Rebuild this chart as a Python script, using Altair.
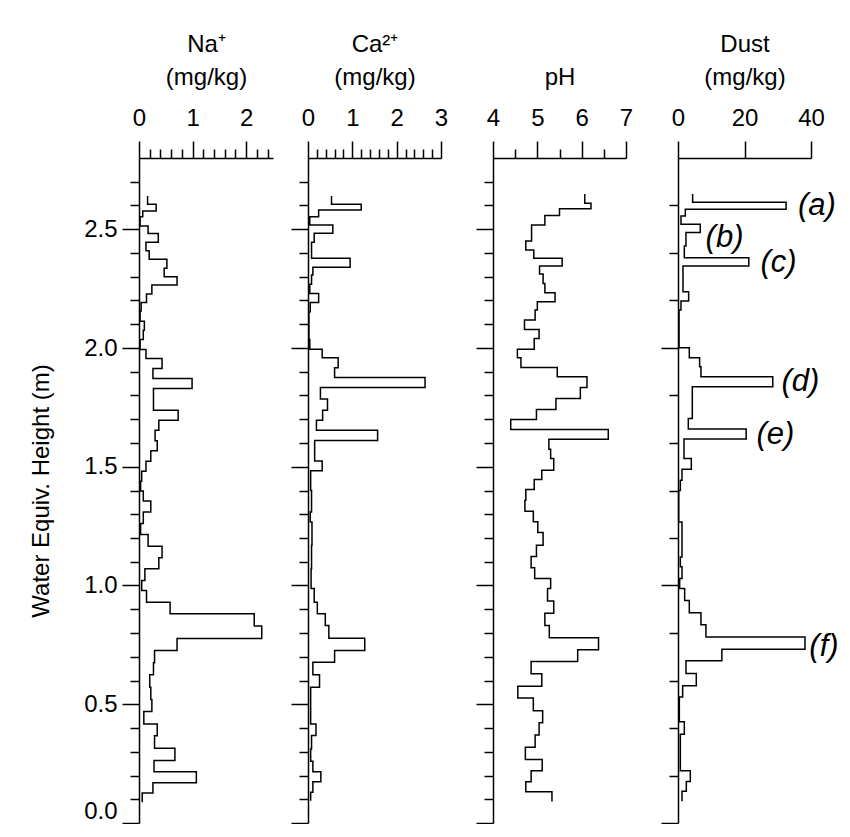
import altair as alt
import pandas as pd

FONT = "Liberation Sans"

# ---- data: sample boundaries (m, top -> bottom) and values per interval ----
na_depth = [2.640, 2.605, 2.577, 2.553, 2.514, 2.482, 2.445, 2.410, 2.374, 2.336, 2.300,
            2.265, 2.227, 2.192, 2.156, 2.113, 2.075, 2.036, 1.994, 1.956, 1.914, 1.872,
            1.830, 1.738, 1.696, 1.654, 1.610, 1.567, 1.523, 1.481, 1.439, 1.398, 1.356,
            1.310, 1.261, 1.215, 1.165, 1.117, 1.071, 1.021, 0.979, 0.930, 0.881, 0.829,
            0.777, 0.726, 0.675, 0.624, 0.572, 0.520, 0.469, 0.417, 0.367, 0.315, 0.263,
            0.216, 0.170, 0.126, 0.087]
na_value = [0.16, 0.32, 0.07, 0.02, 0.17, 0.36, 0.13, 0.19, 0.52, 0.47, 0.71,
            0.24, 0.14, 0.04, 0.02, 0.10, 0.08, 0.02, 0.13, 0.43, 0.26, 0.99,
            0.27, 0.73, 0.37, 0.30, 0.34, 0.22, 0.13, 0.05, 0.03, 0.08, 0.22,
            0.08, 0.03, 0.17, 0.43, 0.37, 0.11, 0.05, 0.14, 0.58, 2.15, 2.29,
            0.71, 0.29, 0.27, 0.20, 0.22, 0.24, 0.09, 0.34, 0.29, 0.67, 0.28,
            1.07, 0.26, 0.06]

ca_depth = [2.640, 2.605, 2.581, 2.553, 2.518, 2.483, 2.445, 2.378, 2.340, 2.307, 2.268,
            2.230, 2.192, 2.153, 2.036, 1.995, 1.959, 1.917, 1.876, 1.834, 1.785, 1.738,
            1.696, 1.654, 1.611, 1.524, 1.483, 1.400, 1.310, 1.267, 1.170, 1.070, 0.987,
            0.930, 0.881, 0.832, 0.778, 0.726, 0.677, 0.624, 0.572, 0.417, 0.368, 0.312,
            0.260, 0.216, 0.174, 0.129, 0.094]
ca_value = [0.53, 1.20, 0.24, 0.04, 0.56, 0.14, 0.08, 0.95, 0.11, 0.08, 0.04,
            0.24, 0.05, 0.02, 0.04, 0.32, 0.68, 0.60, 2.64, 0.28, 0.44, 0.33,
            0.19, 1.57, 0.15, 0.32, 0.06, 0.08, 0.05, 0.09, 0.08, 0.07, 0.14,
            0.21, 0.39, 0.47, 1.28, 0.60, 0.11, 0.26, 0.06, 0.18, 0.08, 0.06,
            0.11, 0.29, 0.11, 0.06]

ph_depth = [2.648, 2.610, 2.586, 2.558, 2.518, 2.451, 2.413, 2.378, 2.345, 2.312, 2.272,
            2.233, 2.195, 2.160, 2.118, 2.078, 2.040, 1.995, 1.959, 1.918, 1.879, 1.834,
            1.787, 1.741, 1.699, 1.657, 1.616, 1.574, 1.535, 1.485, 1.446, 1.404, 1.359,
            1.313, 1.268, 1.223, 1.169, 1.122, 1.075, 1.029, 0.987, 0.935, 0.883, 0.832,
            0.780, 0.729, 0.680, 0.628, 0.576, 0.526, 0.473, 0.422, 0.371, 0.319, 0.267,
            0.220, 0.174, 0.132, 0.091]
ph_value = [6.07, 6.21, 5.50, 5.17, 4.87, 4.74, 4.92, 5.56, 5.05, 5.13, 5.17,
            5.40, 5.00, 4.95, 4.71, 5.04, 4.93, 4.55, 4.63, 5.45, 6.12, 5.97,
            5.42, 4.98, 4.40, 6.60, 5.26, 5.30, 5.37, 5.10, 4.93, 4.74, 4.72,
            4.91, 5.01, 5.13, 4.98, 4.86, 4.94, 5.30, 5.23, 5.37, 5.17, 5.27,
            6.38, 5.91, 4.86, 5.10, 4.56, 4.91, 5.12, 5.04, 4.95, 4.73, 5.11,
            4.86, 4.74, 5.33]

dust_depth = [2.648, 2.614, 2.584, 2.556, 2.521, 2.486, 2.430, 2.380, 2.345, 2.237, 2.198,
              2.160, 2.001, 1.959, 1.921, 1.879, 1.837, 1.703, 1.659, 1.617, 1.535, 1.489,
              1.443, 1.400, 1.267, 1.120, 1.079, 1.029, 0.987, 0.937, 0.885, 0.835, 0.783,
              0.732, 0.683, 0.629, 0.578, 0.531, 0.426, 0.374, 0.220, 0.175, 0.134, 0.092]
dust_value = [4.4, 32.5, 2.2, 0.9, 6.7, 2.4, 1.9, 21.3, 1.5, 3.2, 0.9,
              0.3, 3.4, 6.5, 6.9, 28.5, 4.3, 3.1, 20.5, 1.8, 4.0, 1.2,
              0.7, 0.2, 1.2, 0.7, 1.2, 0.5, 2.0, 3.4, 6.9, 8.4, 38.2,
              13.2, 2.4, 5.5, 1.4, 0.4, 1.9, 0.7, 3.7, 2.5, 1.2]

note_label = ["(a)", "(b)", "(c)", "(d)", "(e)", "(f)"]
note_x = [36.1, 8.3, 24.8, 31.1, 23.6, 39.5]
note_y = [2.597, 2.462, 2.357, 1.855, 1.632, 0.742]

na_ticks = [round(i * 0.2, 1) for i in range(13)]
ca_ticks = [round(i * 0.2, 1) for i in range(16)]
ph_ticks = [4, 4.5, 5, 5.5, 6, 6.5, 7]
dust_ticks = [0, 10, 20, 30, 40]
y_ticks = [round(i * 0.1, 1) for i in range(28)]

FS = 24
PLOT_H = 665


def profile(depth, value):
    rows = []
    k = 0
    for i, v in enumerate(value):
        rows.append({"h": depth[i], "v": v, "o": k}); k += 1
        rows.append({"h": depth[i + 1], "v": v, "o": k}); k += 1
    return pd.DataFrame(rows)


Y_MAJOR = "abs(datum.value * 2 - round(datum.value * 2)) < 0.000001"


def yaxis(first):
    return alt.Axis(
        orient="left", values=y_ticks, grid=False,
        title="Water Equiv. Height (m)" if first else None,
        labels=first,
        labelExpr=f"{Y_MAJOR} ? format(datum.value, '.1f') : ''",
        tickSize={"expr": f"{Y_MAJOR} ? 17 : 9"},
        labelFontSize=FS, titleFontSize=FS, titleFontWeight="normal",
        labelFont=FONT, titleFont=FONT, labelColor="black", titleColor="black",
        domainColor="black", tickColor="black", domainWidth=1.5, tickWidth=1.5,
        labelPadding=5, titlePadding=30, labelFlush=True,
    )


def panel(depth, value, title, domain, ticks, major, width, rng, first=False):
    df = profile(depth, value)
    xaxis = alt.Axis(
        orient="top", values=ticks, grid=False, title=title,
        labelExpr=f"{major} ? format(datum.value, '.0f') : ''",
        tickSize={"expr": f"{major} ? 17 : 9"},
        labelFontSize=FS, titleFontSize=FS, titleFontWeight="normal",
        labelFont=FONT, titleFont=FONT, labelColor="black", titleColor="black",
        domainColor="black", tickColor="black", domainWidth=1.5, tickWidth=1.5,
        labelPadding=11, titlePadding=17, labelFlush=False, titleLineHeight=33,
    )
    line = alt.Chart(df).mark_line(color="black", strokeWidth=1.5).encode(
        x=alt.X("v:Q", scale=alt.Scale(domain=domain, range=[0, rng], nice=False, zero=False),
                axis=xaxis),
        y=alt.Y("h:Q", scale=alt.Scale(domain=[0, 2.8], nice=False, zero=True),
                axis=yaxis(first)),
        order="o:Q",
    )
    return line.properties(width=width, height=PLOT_H)


INT_MAJOR = "abs(datum.value - round(datum.value)) < 0.000001"

p_na = panel(na_depth, na_value, ["Na\u207a", "(mg/kg)"], [0, 2.5], na_ticks, INT_MAJOR, 134, 134, first=True)
p_ca = panel(ca_depth, ca_value, ["Ca\u00b2\u207a", "(mg/kg)"], [0, 3], ca_ticks, INT_MAJOR, 150, 133)
p_ph = panel(ph_depth, ph_value, [" ", "pH"], [4, 7], ph_ticks, INT_MAJOR, 150, 133)
p_dust_line = panel(dust_depth, dust_value, ["Dust", "(mg/kg)"], [0, 40], dust_ticks,
                    "datum.value % 20 === 0", 133, 133)

notes = pd.DataFrame({"label": note_label, "x": note_x, "y": note_y})
p_notes = alt.Chart(notes).mark_text(
    font=FONT, fontSize=31, fontStyle="italic", align="left", baseline="middle", color="black"
).encode(x="x:Q", y="h:Q", text="label:N").transform_calculate(h="datum.y")
p_dust = alt.layer(p_dust_line, p_notes)

chart = alt.hconcat(p_na, p_ca, p_ph, p_dust, spacing=17).configure(
    font=FONT, padding={"top": 24, "left": 21, "right": 0, "bottom": 0}
).configure_view(
    stroke="transparent", strokeWidth=0
)

chart.save("out.html", embed_options={"renderer": "svg", "actions": False})
